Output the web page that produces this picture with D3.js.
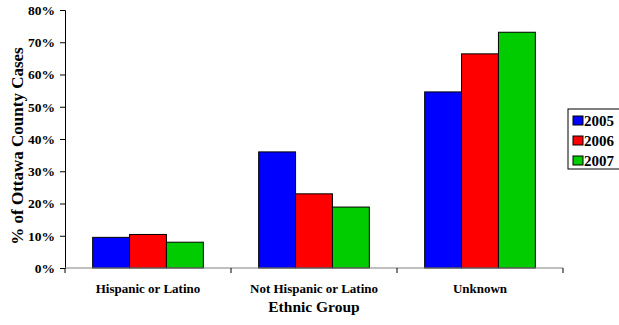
<!DOCTYPE html>
<html><head><meta charset="utf-8">
<script src="https://cdn.jsdelivr.net/npm/d3@7"></script>
<style>body{margin:0;background:#fff}svg{display:block}svg text{font-family:"Liberation Serif","Times New Roman",serif !important;font-weight:bold}</style>
</head><body><svg id="c" width="619" height="325"></svg>
<script>
const categories = ["Hispanic or Latino", "Not Hispanic or Latino", "Unknown"];
const years = ["2005", "2006", "2007"];
const v2005 = [9.5, 36.0, 54.6];
const v2006 = [10.4, 23.0, 66.4];
const v2007 = [8.0, 18.9, 73.1];
const yTicks = [0, 10, 20, 30, 40, 50, 60, 70, 80];
const colors = ["#0000ff", "#ff0000", "#00cc00"];
const series = [v2005, v2006, v2007];
const FF = '"Liberation Serif","Times New Roman",serif';

const svg = d3.select("#c");
const x0 = d3.scaleBand().domain(categories).range([65, 563]).paddingInner(0).paddingOuter(0);
const x1 = d3.scaleBand().domain(years).range([0, x0.bandwidth()]).paddingInner(0).paddingOuter(0.75);
const y = d3.scaleLinear().domain([0, 80]).range([268, 10]);

// bars
categories.forEach((c, i) => {
  years.forEach((yr, j) => {
    svg.append("rect")
      .attr("x", x0(c) + x1(yr))
      .attr("y", y(series[j][i]))
      .attr("width", x1.bandwidth())
      .attr("height", y(0) - y(series[j][i]))
      .attr("fill", colors[j])
      .attr("stroke", "#000").attr("stroke-width", 1);
  });
});

// y axis
const yAxis = d3.axisLeft(y).tickValues(yTicks).tickFormat(d => d + "%").tickSize(5).tickPadding(5);
const ya = svg.append("g").attr("transform", "translate(65,0)").call(yAxis).attr("font-family", FF);
ya.select(".domain").attr("stroke", "#000");
ya.selectAll("text").attr("font-size", 13.5).attr("fill", "#000");

// x axis
const xa = svg.append("g").attr("transform", "translate(0,268)").attr("font-family", FF);
xa.append("line").attr("x1", 65).attr("x2", 563).attr("y1", 0).attr("y2", 0).attr("stroke", "#808080").attr("stroke-width", 1.2);
const bounds = categories.map(c => x0(c)).concat([x0(categories[categories.length - 1]) + x0.bandwidth()]);
xa.selectAll("line.t").data(bounds).enter().append("line")
  .attr("x1", d => d).attr("x2", d => d).attr("y1", 0).attr("y2", 5).attr("stroke", "#000");
xa.selectAll("text.c").data(categories).enter().append("text")
  .attr("x", d => x0(d) + x0.bandwidth() / 2).attr("y", 25)
  .attr("text-anchor", "middle").attr("font-size", 13).text(d => d);

svg.append("text").attr("x", 314).attr("y", 312).attr("text-anchor", "middle").attr("font-size", 15.5).text("Ethnic Group");
svg.append("text").attr("transform", "translate(23,146) rotate(-90)").attr("text-anchor", "middle").attr("font-size", 17).text("% of Ottawa County Cases");

// legend
const lg = svg.append("g").attr("transform", "translate(568,109)");
lg.append("rect").attr("x", 0).attr("y", 0).attr("width", 60).attr("height", 60).attr("fill", "#fff").attr("stroke", "#000");
years.forEach((yr, j) => {
  lg.append("rect").attr("x", 5).attr("y", 7 + j * 20).attr("width", 10).attr("height", 9).attr("fill", colors[j]).attr("stroke", "#000");
  lg.append("text").attr("x", 16).attr("y", 17 + j * 20).attr("font-size", 15).text(yr);
});
</script></body></html>
